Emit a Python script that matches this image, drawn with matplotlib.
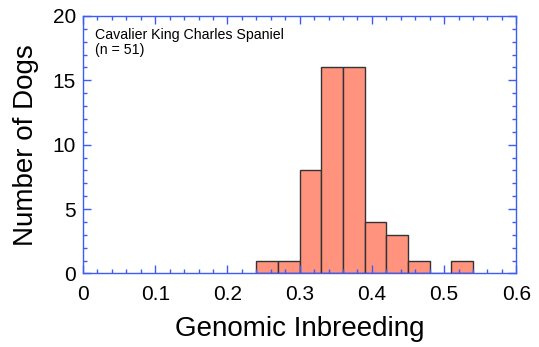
# Histograma de inbreeding genomico - Cavalier King Charles Spaniel
import numpy as np
import matplotlib.pyplot as plt

# Dados (bins de largura 0.03)
bin_edges = [0.24, 0.27, 0.30, 0.33, 0.36, 0.39, 0.42, 0.45, 0.48, 0.51, 0.54]
counts = [1, 1, 8, 16, 16, 4, 3, 1, 0, 1]
x_ticks = [0, 0.1, 0.2, 0.3, 0.4, 0.5, 0.6]
x_tick_labels = ['0', '0.1', '0.2', '0.3', '0.4', '0.5', '0.6']
y_ticks = [0, 5, 10, 15, 20]

plt.rcParams['font.family'] = ['Liberation Sans', 'DejaVu Sans']
azul = '#3d5cf5'

fig = plt.figure(figsize=(5.39, 3.47), dpi=100)
ax = fig.add_axes([0.154, 0.212, 0.804, 0.742])

# Desenhar as barras a partir dos bins
edges = np.array(bin_edges)
ax.hist(edges[:-1], bins=edges, weights=counts,
        color='#ff937d', edgecolor='#333333', linewidth=1.0)

ax.set_xlim(0, 0.6)
ax.set_ylim(0, 20)
ax.set_xticks(x_ticks)
ax.set_xticklabels(x_tick_labels)
ax.set_yticks(y_ticks)
ax.set_xticks(np.arange(0, 0.601, 0.02), minor=True)
ax.set_yticks(np.arange(0, 20.1, 1), minor=True)

for s in ax.spines.values():
    s.set_color(azul)
    s.set_linewidth(1.0)
    s.set_zorder(5)
ax.tick_params(which='both', direction='in', top=True, right=True,
               color=azul, labelsize=15, pad=5)
ax.tick_params(axis='x', which='major', pad=8)
ax.tick_params(which='major', length=6, width=1.0)
ax.tick_params(which='minor', length=3, width=1.0)
ax.set_axisbelow(False)

ax.set_xlabel('Genomic Inbreeding', fontsize=20, labelpad=9)
ax.set_ylabel('Number of Dogs', fontsize=20, labelpad=10)

ax.text(0.027, 0.955, 'Cavalier King Charles Spaniel\n(n = 51)',
        transform=ax.transAxes, fontsize=10.2, va='top', ha='left',
        linespacing=1.1)

fig.savefig('out.png', dpi=100)
